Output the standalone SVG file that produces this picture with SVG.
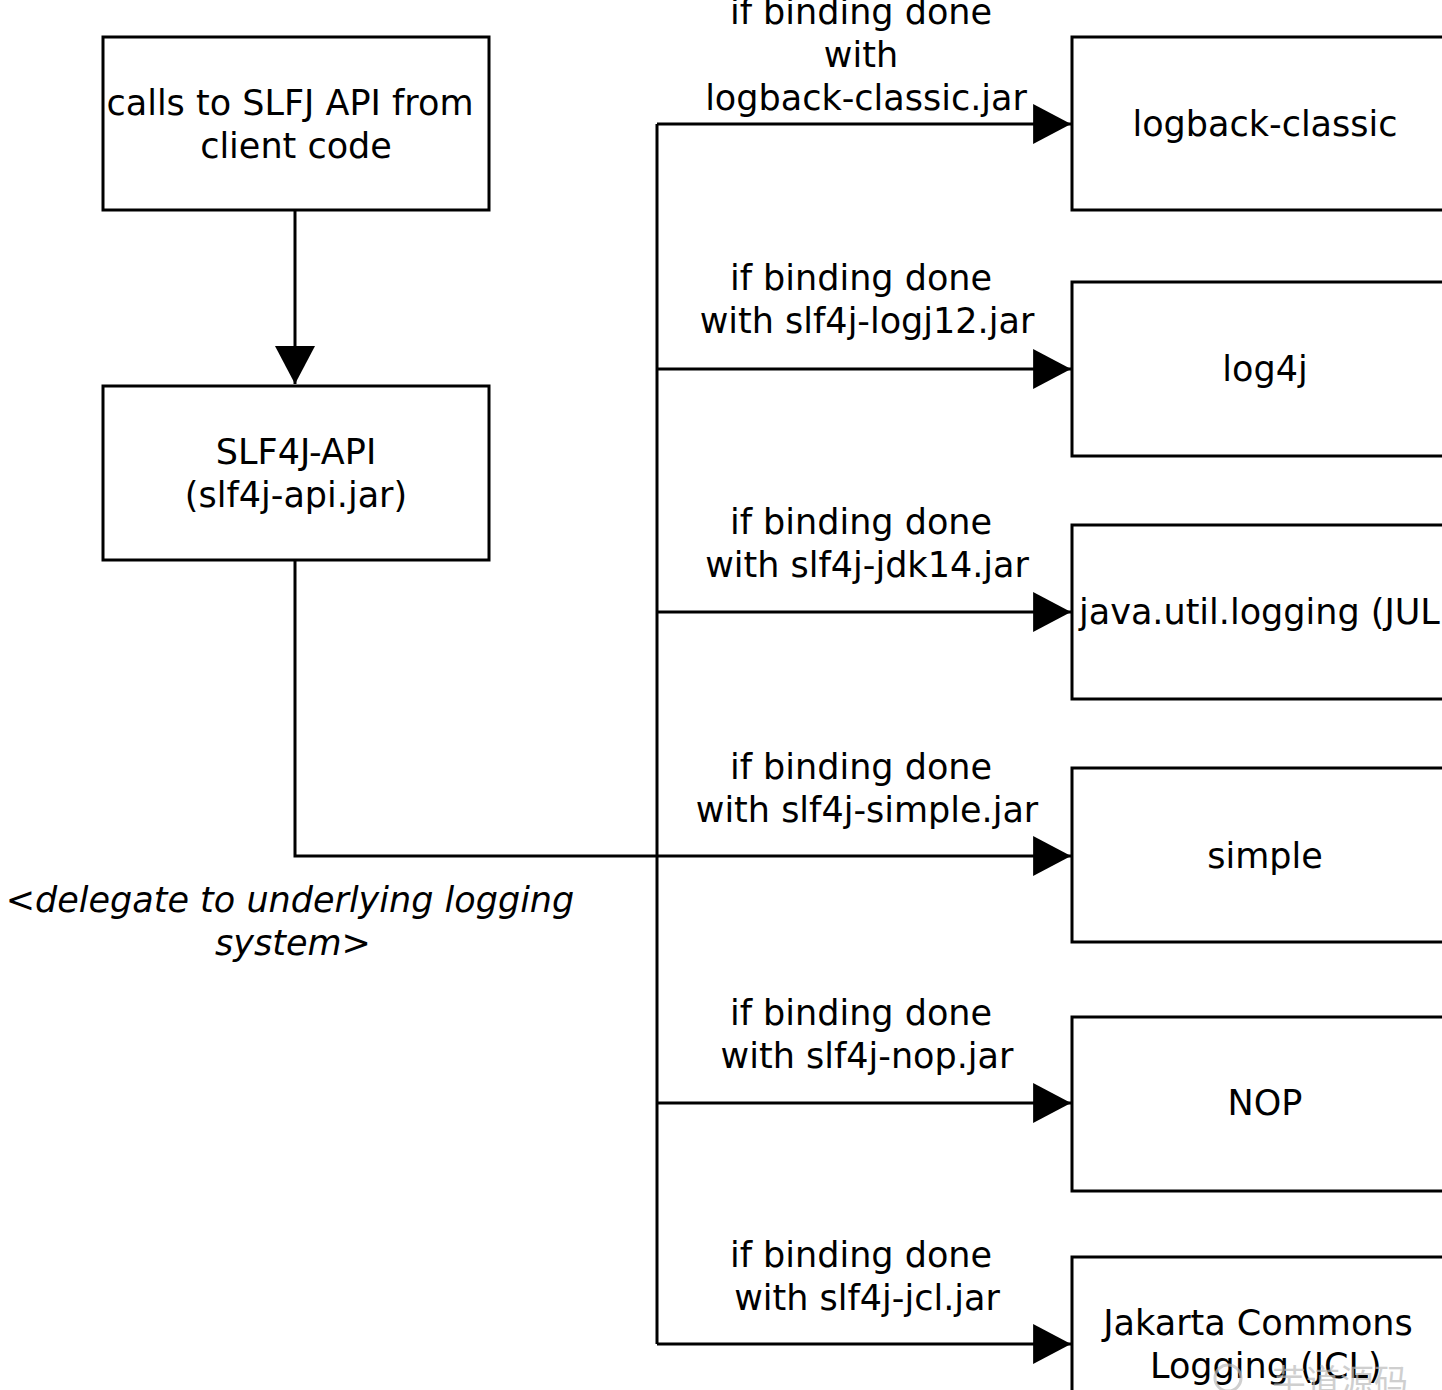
<svg xmlns="http://www.w3.org/2000/svg" width="1442" height="1390" viewBox="0 0 1442 1390">
<style>
.box{fill:#fff;stroke:#000;stroke-width:3}
.t{font-family:"DejaVu Sans",sans-serif;font-size:35px;fill:#000;text-anchor:middle}
.s{text-anchor:start}
.i{font-style:italic}
.ln{fill:none;stroke:#000;stroke-width:3}
.wm{font-family:"Noto Sans CJK SC",sans-serif;font-size:34px;fill:#bbb;opacity:0.7}
</style>
<defs>
<marker id="ah" markerUnits="userSpaceOnUse" markerWidth="40" markerHeight="40" viewBox="0 0 36 38" refX="36" refY="19" orient="auto">
<polygon points="0,0 36,19 0,38" fill="#000"/>
</marker>
</defs>
<rect width="1442" height="1390" fill="#fff"/>
<g id="connectors">
<path class="ln" d="M295,210 V384" marker-end="url(#ah)"/>
<path class="ln" d="M295,560 V856 H1071" marker-end="url(#ah)"/>
<path class="ln" d="M657,124 V1344"/>
<path class="ln" d="M657,124 H1071" marker-end="url(#ah)"/>
<path class="ln" d="M657,369 H1071" marker-end="url(#ah)"/>
<path class="ln" d="M657,612 H1071" marker-end="url(#ah)"/>
<path class="ln" d="M657,1103 H1071" marker-end="url(#ah)"/>
<path class="ln" d="M657,1344 H1071" marker-end="url(#ah)"/>
<text class="t" x="861" y="24">if binding done</text>
<text class="t" x="861" y="67">with</text>
<text class="t" x="866" y="110">logback-classic.jar</text>
<text class="t" x="861" y="290">if binding done</text>
<text class="t" x="867" y="333">with slf4j-logj12.jar</text>
<text class="t" x="861" y="534">if binding done</text>
<text class="t" x="867" y="577">with slf4j-jdk14.jar</text>
<text class="t" x="861" y="779">if binding done</text>
<text class="t" x="867" y="822">with slf4j-simple.jar</text>
<text class="t" x="861" y="1025">if binding done</text>
<text class="t" x="867" y="1068">with slf4j-nop.jar</text>
<text class="t" x="861" y="1267">if binding done</text>
<text class="t" x="867" y="1310">with slf4j-jcl.jar</text>
<text class="t i" x="290" y="912">&lt;delegate to underlying logging</text>
<text class="t i" x="293" y="955">system&gt;</text>
</g>
<g id="client">
<rect class="box" x="103" y="37" width="386" height="173"/>
<text class="t" x="290" y="115">calls to SLFJ API from</text>
<text class="t" x="296" y="158">client code</text>
</g>
<g id="slf4j-api">
<rect class="box" x="103" y="386" width="386" height="174"/>
<text class="t" x="296" y="464">SLF4J-API</text>
<text class="t" x="296" y="507">(slf4j-api.jar)</text>
</g>
<g id="logback">
<rect class="box" x="1072" y="37" width="386" height="173"/>
<text class="t" x="1265" y="136">logback-classic</text>
</g>
<g id="log4j">
<rect class="box" x="1072" y="282" width="386" height="174"/>
<text class="t" x="1265" y="381">log4j</text>
</g>
<g id="jul">
<rect class="box" x="1072" y="525" width="386" height="174"/>
<text class="t s" x="1079" y="624">java.util.logging (JUL)</text>
</g>
<g id="simple">
<rect class="box" x="1072" y="768" width="386" height="174"/>
<text class="t" x="1265" y="868">simple</text>
</g>
<g id="nop">
<rect class="box" x="1072" y="1017" width="386" height="174"/>
<text class="t" x="1265" y="1115">NOP</text>
</g>
<g id="jcl">
<rect class="box" x="1072" y="1257" width="386" height="174"/>
<text class="t" x="1258" y="1335">Jakarta Commons</text>
<text class="t s" x="1150" y="1378">Logging (JCL)</text>
</g>
<g id="watermark">
<circle cx="1228" cy="1378" r="13" fill="none" stroke="#bbb" stroke-width="3" opacity="0.7"/>
<text class="wm" x="1272" y="1394">芋道源码</text>
</g>
</svg>
